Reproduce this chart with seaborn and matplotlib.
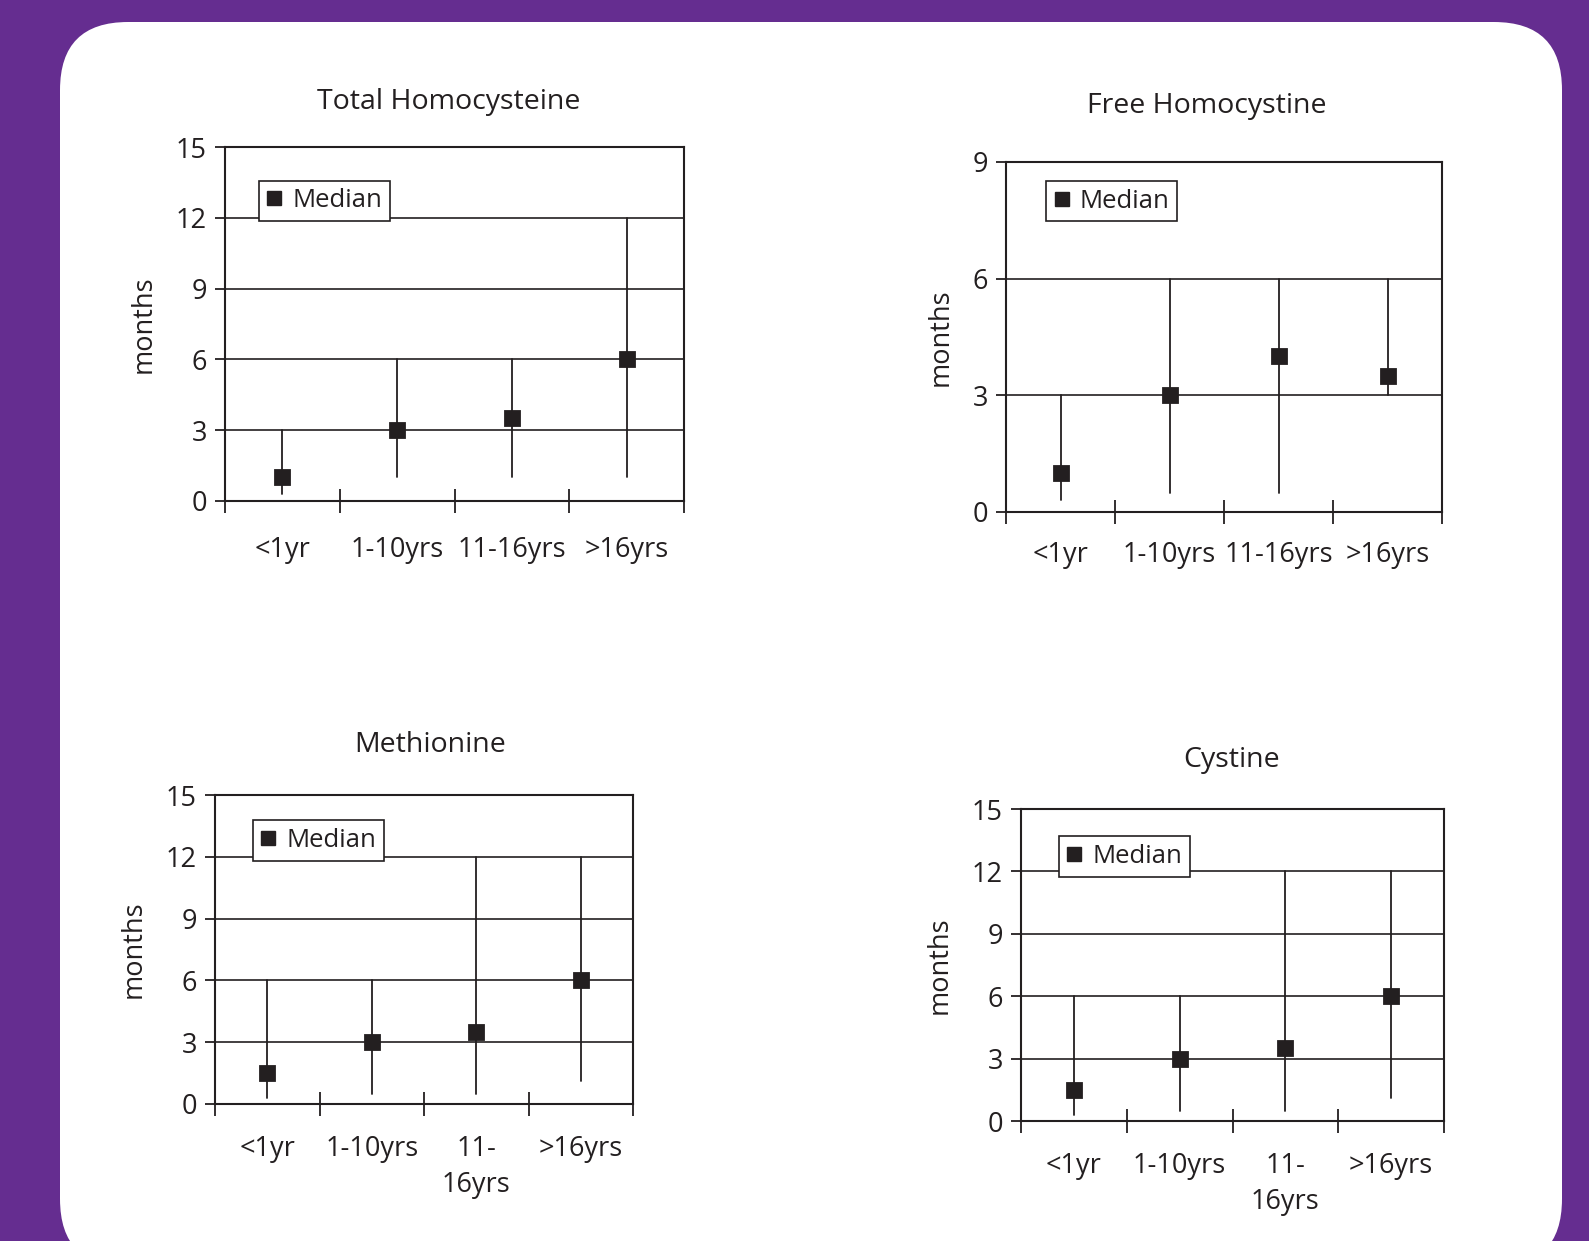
import numpy as np
import pandas as pd
import matplotlib
matplotlib.use("Agg")
import matplotlib.pyplot as plt
from matplotlib.patches import FancyBboxPatch
from matplotlib.lines import Line2D
from matplotlib.ticker import FixedLocator, NullFormatter, FixedFormatter
import seaborn as sns

# ---- data: months, per age group (median with min-max range) ----
age_groups = ["<1yr", "1-10yrs", "11-16yrs", ">16yrs"]
age_labels_wrapped = ["<1yr", "1-10yrs", "11-\n16yrs", ">16yrs"]

total_hcy_median = [1, 3, 3.5, 6]
total_hcy_low = [0.3, 1, 1, 1]
total_hcy_high = [3, 6, 6, 12]

free_hcy_median = [1, 3, 4, 3.5]
free_hcy_low = [0.3, 0.5, 0.5, 3]
free_hcy_high = [3, 6, 6, 6]

met_median = [1.5, 3, 3.5, 6]
met_low = [0.3, 0.5, 0.5, 1.1]
met_high = [6, 6, 12, 12]

cys_median = [1.5, 3, 3.5, 6]
cys_low = [0.3, 0.5, 0.5, 1.1]
cys_high = [6, 6, 12, 12]

INK = "#231F20"
PURPLE = "#652D90"
FONT = ["Open Sans", "DejaVu Sans"]

sns.set_style("white")
plt.rcParams["font.family"] = FONT
plt.rcParams["text.color"] = INK
plt.rcParams["axes.labelcolor"] = INK
plt.rcParams["xtick.color"] = INK
plt.rcParams["ytick.color"] = INK

W, H = 1589, 1241
fig = plt.figure(figsize=(W / 100, H / 100), dpi=100)
fig.patch.set_facecolor(PURPLE)

# white rounded card (pixel coordinates), kept behind the axes
card = FancyBboxPatch((60, -26), 1502, 1245,
                      boxstyle="round,pad=0,rounding_size=68",
                      transform=None, facecolor="white", edgecolor="none",
                      zorder=-10)
fig.patches.append(card)


def px_axes(left, top, right, bottom):
    return fig.add_axes([left / W, (H - bottom) / H, (right - left) / W, (bottom - top) / H])


panels = [
    dict(title="Total Homocysteine", median=total_hcy_median, low=total_hcy_low, high=total_hcy_high,
         ymax=15, box=(225, 147, 684, 501), labels=age_groups, title_x=0.487, title_pad=27,
         legend_at=(0.074, 0.905), label_pad=25),
    dict(title="Free Homocystine", median=free_hcy_median, low=free_hcy_low, high=free_hcy_high,
         ymax=9, box=(1006, 162, 1442, 512), labels=age_groups, title_x=0.46, title_pad=35,
         legend_at=(0.092, 0.946), label_pad=21),
    dict(title="Methionine", median=met_median, low=met_low, high=met_high,
         ymax=15, box=(215, 795, 633, 1104), labels=age_labels_wrapped, title_x=0.515, title_pad=31,
         legend_at=(0.091, 0.918), label_pad=22),
    dict(title="Cystine", median=cys_median, low=cys_low, high=cys_high,
         ymax=15, box=(1021, 809, 1444, 1121), labels=age_labels_wrapped, title_x=0.497, title_pad=30,
         legend_at=(0.090, 0.913), label_pad=22),
]

for p in panels:
    ax = px_axes(*p["box"])
    ax.set_zorder(1)
    rows = []
    for g, lo, md, hi in zip(age_groups, p["low"], p["median"], p["high"]):
        for v in (lo, md, hi):
            rows.append({"age": g, "months": v})
    df = pd.DataFrame(rows)

    sns.pointplot(data=df, x="age", y="months", order=age_groups,
                  estimator="median", errorbar=lambda v: (v.min(), v.max()),
                  color=INK, marker="s", linestyle="none", markersize=10,
                  err_kws={"linewidth": 1.3}, capsize=0, ax=ax)

    ax.set_xlim(-0.5, 3.5)
    ax.set_ylim(0, p["ymax"])
    ax.set_yticks(np.arange(0, p["ymax"] + 1, 3))
    ax.yaxis.grid(True, color=INK, linewidth=1.2)
    ax.xaxis.grid(False)
    ax.set_axisbelow(True)

    # category boundaries carry the tick marks, centres carry the labels
    ax.xaxis.set_major_locator(FixedLocator([-0.5, 0.5, 1.5, 2.5, 3.5]))
    ax.xaxis.set_major_formatter(NullFormatter())
    ax.xaxis.set_minor_locator(FixedLocator([0, 1, 2, 3]))
    ax.xaxis.set_minor_formatter(FixedFormatter(p["labels"]))
    ax.tick_params(axis="x", which="major", bottom=True, direction="inout",
                   length=17, width=1.3, color=INK)
    ax.tick_params(axis="x", which="minor", bottom=True, length=0, pad=p["label_pad"],
                   labelsize=19.5)
    ax.tick_params(axis="y", which="major", direction="out", length=7, width=1.3,
                   pad=6, labelsize=19.5, left=True)
    for lab in ax.xaxis.get_minorticklabels():
        lab.set_linespacing(1.42)
        lab.set_verticalalignment("top")

    for s in ax.spines.values():
        s.set_visible(True)
        s.set_color(INK)
        s.set_linewidth(1.5)

    ax.set_xlabel("")
    ax.set_ylabel("months", fontsize=19.5, labelpad=13)
    ax.set_title(p["title"], fontsize=20.5, x=p["title_x"], pad=p["title_pad"])

    handle = Line2D([], [], marker="s", linestyle="none", color=INK, markersize=9.5)
    leg = ax.legend([handle], ["Median"], loc="upper left", bbox_to_anchor=p["legend_at"],
                    borderaxespad=0, fancybox=False, framealpha=1, edgecolor=INK,
                    fontsize=18.5, handlelength=0.6, handletextpad=0.4,
                    borderpad=0.3, labelcolor=INK)
    leg.get_frame().set_linewidth(1.2)

fig.savefig("out.png", dpi=100, facecolor=fig.get_facecolor())
